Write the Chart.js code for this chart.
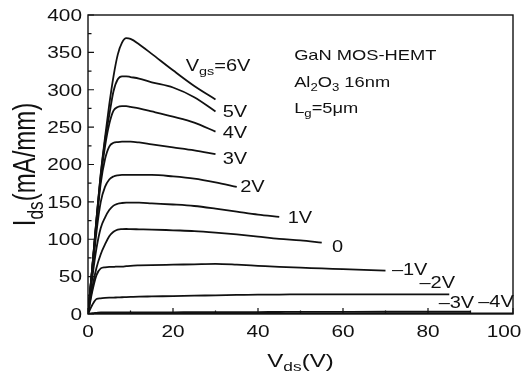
<!DOCTYPE html>
<html>
<head>
<meta charset="utf-8">
<script src="https://cdn.jsdelivr.net/npm/chart.js@4.4.0/dist/chart.umd.min.js"></script>
<style>
  html, body { margin: 0; padding: 0; background: #fff; }
  canvas { display: block; }
</style>
</head>
<body>
<canvas id="ivChart" width="526" height="375"></canvas>
<script>
// drain voltage sample points (V)
const vds = [0, 1, 2, 3, 4, 5, 6, 7, 8, 9, 10, 12, 15, 20, 25, 30, 35, 40, 45, 50, 55, 60, 70, 80, 85, 90, 100];

// drain current (mA/mm) per gate voltage, taken on the vds points above
const ids6V = [0, 62, 128, 188, 236, 280, 318, 347, 363, 369, 368, 361, 348, 326, 305, 287];
const ids5V = [0, 62, 127, 186, 232, 266, 298, 314, 318, 318, 317, 315, 310, 303, 290, 271];
const ids4V = [0, 61, 125, 182, 224, 254, 272, 277, 278, 278, 277, 275, 271, 264, 256, 244];
const ids3V = [0, 60, 122, 175, 207, 224, 229, 230, 230.5, 230.5, 230.5, 229.5, 227, 223, 219, 214];
const ids2V = [0, 55, 110, 150, 170, 180, 184, 185.5, 186, 186, 186, 186, 186, 184, 181, 176, 170];
const ids1V = [0, 48, 88, 115, 129, 139, 145, 147.5, 148.5, 149, 149, 149, 148, 146.5, 144.5, 141, 137, 133, 130];
const ids0V = [0, 35, 62, 80, 93, 104, 110, 113, 113.5, 113.7, 113.5, 113.3, 113, 112, 111, 109, 106.5, 103.5, 100.5, 98.5, 95.5];
const idsM1V = [0, 30, 52, 61, 62.5, 63, 63, 63.5, 63.5, 64, 64.5, 65, 65.5, 66, 66.5, 67, 66, 64.5, 63, 62, 61, 60, 58];
const idsM2V = [0, 12, 20, 21, 21.5, 21.8, 22, 22.2, 22.4, 22.6, 22.8, 23.2, 23.5, 24, 24.5, 25, 25.5, 26, 26, 26.3, 26.3, 26.3, 26.3, 26.3, 26.3];
const idsM3V = [0, 1, 1.5, 2, 2, 2, 2, 2, 2, 2, 2, 2, 2.2, 2.3, 2.4, 2.5, 2.5, 2.6, 2.7, 2.8, 2.8, 2.9, 3, 3, 3, 3];
const idsM4V = [0, 0.3, 0.5, 0.6, 0.6, 0.6, 0.6, 0.7, 0.7, 0.7, 0.7, 0.7, 0.7, 0.8, 0.8, 0.8, 0.8, 0.8, 0.8, 0.8, 0.8, 0.8, 0.8, 0.8, 0.8, 0.8, 0.8];

const curves = [ids6V, ids5V, ids4V, ids3V, ids2V, ids1V, ids0V, idsM1V, idsM2V, idsM3V, idsM4V];

// gate voltage tags and where they sit (Vds, Ids)
const curveLabels = ['V_{gs}=6V', '5V', '4V', '3V', '2V', '1V', '0', '\u20131V', '\u20132V', '\u20133V', '\u20134V'];
const labelVds = [23, 31.7, 31.7, 31.7, 35.8, 47, 57.4, 71.5, 78, 82.5, 91.8];
const labelIds = [333, 271.6, 242.5, 208.7, 171, 130, 91, 60, 42, 16, 17.5];

// device notes
const notes = ['GaN MOS-HEMT', 'Al_{2}O_{3} 16nm', 'L_{g}=5\u03bcm'];
const notesVds = 48.5;
const notesIds = [347, 310.7, 275.6];

const xTicks = [0, 20, 40, 60, 80, 100];
const yTicks = [0, 50, 100, 150, 200, 250, 300, 350, 400];

const FONT = '"Liberation Sans", Arial, sans-serif';
const INK = '#111';
const WIDE = 1.3; // printed lettering runs wider than it is tall

// text with _{...} subscripts; the horizontal stretch is applied before rotation
function drawRich(ctx, str, x, y, opts) {
  const size = opts.size;
  const sx = opts.stretch || 1;
  const align = opts.align || 'left';
  const parts = [];
  str.split(/(_\{[^}]*\})/).forEach(p => {
    if (!p) return;
    if (p.startsWith('_{')) parts.push({ t: p.slice(2, -1), sub: true });
    else parts.push({ t: p, sub: false });
  });
  const fontFor = sub => (sub ? size * 0.72 : size) + 'px ' + FONT;
  let width = 0;
  parts.forEach(p => {
    ctx.font = fontFor(p.sub);
    p.w = ctx.measureText(p.t).width;
    width += p.w;
  });
  ctx.save();
  ctx.translate(x, y);
  ctx.scale(sx, 1);
  if (opts.rotate) ctx.rotate(opts.rotate);
  let cx = align === 'center' ? -width / 2 : align === 'right' ? -width : 0;
  const base = size * 0.36;
  ctx.textAlign = 'left';
  ctx.textBaseline = 'alphabetic';
  ctx.fillStyle = INK;
  parts.forEach(p => {
    ctx.font = fontFor(p.sub);
    ctx.fillText(p.t, cx, p.sub ? base + size * 0.24 : base);
    cx += p.w;
  });
  ctx.restore();
}

const framePlugin = {
  id: 'frame',
  beforeDraw(chart) {
    const ctx = chart.ctx;
    ctx.save();
    ctx.fillStyle = '#fff';
    ctx.fillRect(0, 0, chart.width, chart.height);
    ctx.restore();
  },
  afterDraw(chart) {
    const ctx = chart.ctx;
    const area = chart.chartArea;
    const xs = chart.scales.x;
    const ys = chart.scales.y;

    ctx.save();
    ctx.strokeStyle = INK;
    ctx.lineWidth = 1.4;
    ctx.strokeRect(area.left, area.top, area.right - area.left, area.bottom - area.top);

    // inward ticks on the bottom and left axes
    ctx.lineWidth = 1.2;
    ctx.beginPath();
    for (let v = 0; v <= 100; v += 10) {
      const px = xs.getPixelForValue(v);
      const len = v % 20 === 0 ? 6 : 3.5;
      ctx.moveTo(px, area.bottom);
      ctx.lineTo(px, area.bottom - len);
    }
    for (let v = 0; v <= 400; v += 25) {
      const py = ys.getPixelForValue(v);
      const len = v % 50 === 0 ? 6 : 3.5;
      ctx.moveTo(area.left, py);
      ctx.lineTo(area.left + len, py);
    }
    ctx.stroke();
    ctx.restore();

    xTicks.forEach((v, i) => {
      // the last label is pulled in so it stays on the canvas
      const px = xs.getPixelForValue(v) - (i === xTicks.length - 1 ? 9 : 0);
      drawRich(ctx, String(v), px, area.bottom + 17, { size: 16, stretch: WIDE, align: 'center' });
    });
    yTicks.forEach(v => {
      drawRich(ctx, String(v), area.left - 6, ys.getPixelForValue(v), { size: 16, stretch: WIDE, align: 'right' });
    });

    drawRich(ctx, 'V_{ds}(V)', (area.left + area.right) / 2, 360, { size: 18.5, stretch: WIDE, align: 'center' });
    drawRich(ctx, 'I_{ds}(mA/mm)', 24, (area.top + area.bottom) / 2, { size: 24, stretch: WIDE, align: 'center', rotate: -Math.PI / 2 });

    curveLabels.forEach((t, i) => {
      drawRich(ctx, t, xs.getPixelForValue(labelVds[i]), ys.getPixelForValue(labelIds[i]), { size: 16, stretch: 1.25 });
    });
    notes.forEach((t, i) => {
      drawRich(ctx, t, xs.getPixelForValue(notesVds), ys.getPixelForValue(notesIds[i]), { size: 15, stretch: 1.22 });
    });
  }
};

const datasets = curves.map(ids => ({
  data: ids.map((v, i) => ({ x: vds[i], y: v })),
  borderColor: INK,
  borderWidth: 1.8,
  pointRadius: 0,
  fill: false,
  cubicInterpolationMode: 'monotone'
}));

new Chart(document.getElementById('ivChart'), {
  type: 'line',
  data: { datasets },
  options: {
    responsive: false,
    animation: false,
    devicePixelRatio: 1,
    layout: { padding: { left: 0, top: 15, right: 13, bottom: 0 } },
    plugins: { legend: { display: false }, tooltip: { enabled: false } },
    scales: {
      x: {
        type: 'linear', min: 0, max: 100,
        ticks: { display: false },
        grid: { display: false, drawTicks: false },
        border: { display: false },
        afterFit: s => { s.height = 61; }
      },
      y: {
        type: 'linear', min: 0, max: 400,
        ticks: { display: false },
        grid: { display: false, drawTicks: false },
        border: { display: false },
        afterFit: s => { s.width = 88; }
      }
    }
  },
  plugins: [framePlugin]
});
</script>
</body>
</html>
